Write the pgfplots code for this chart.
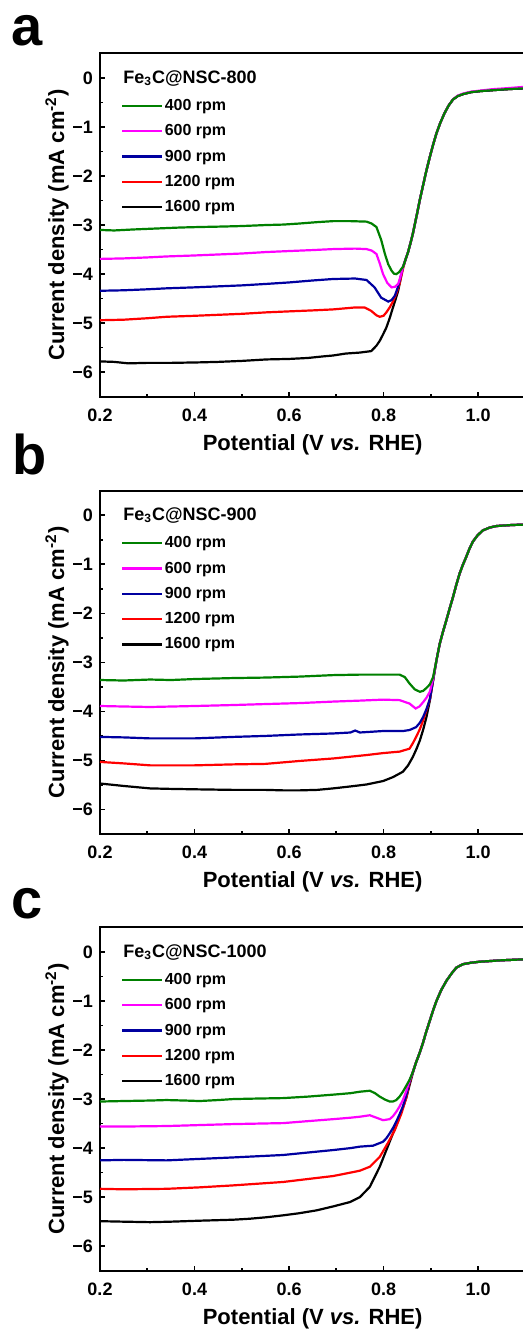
\documentclass[border=0pt]{standalone}
\usepackage{fontspec}
\setmainfont{Liberation Sans}
\usepackage{pgfplots}
\pgfplotsset{compat=1.18}
\definecolor{lgreen}{RGB}{0,128,0}
\definecolor{lmag}{RGB}{255,0,255}
\definecolor{lblue}{RGB}{0,0,160}
\definecolor{lred}{RGB}{255,0,0}
\definecolor{lblack}{RGB}{0,0,0}
\pgfplotsset{lsv/.style={
  width=212.65pt, height=171.65pt, scale only axis,
  xmin=0.2, xmax=1.1, ymin=-6.5, ymax=0.5,
  xtick={0.2,0.4,0.6,0.8,1.0}, xticklabels={0.2,0.4,0.6,0.8,1.0},
  ytick={-6,-5,-4,-3,-2,-1,0}, yticklabels={−6,−5,−4,−3,−2,−1,0},
  minor x tick num=1, minor y tick num=1,
  xtick pos=bottom, ytick pos=left,
  tick align=inside, major tick length=2.6pt, minor tick length=1.5pt,
  every tick/.style={black, line width=0.8pt},
  axis line style={line width=1pt},
  /pgf/number format/assume math mode=true,
  ticklabel style={font=\bfseries\fontsize{9}{10}\selectfont},
  xticklabel style={yshift=-2.5pt},
  xlabel={Potential (V \textit{vs.} RHE)},
  ylabel={Current density (mA cm\textsuperscript{-2})},
  every axis x label/.style={at={(axis description cs:0.5,-0.108)}, anchor=north, inner sep=0pt, font=\bfseries\fontsize{11}{12}\selectfont},
  every axis y label/.style={at={(axis description cs:-0.1011,0.5)}, anchor=center, rotate=90, inner sep=0pt, font=\bfseries\fontsize{11}{12}\selectfont},
  legend image code/.code={\draw[#1] (0pt,0pt) -- (20pt,0pt);},
  legend cell align=left, reverse legend,
  legend style={draw=none, fill=none, at={(axis description cs:0.049,0.874)}, anchor=north west,
    inner sep=0pt, row sep=3.75pt, font=\bfseries\fontsize{8}{9}\selectfont,
    nodes={inner sep=0.7pt, text height=6pt, text depth=1.5pt}},
  every axis plot/.append style={line width=1.1pt},
}}
\begin{document}
\begin{tikzpicture}
\path[use as bounding box] (0,0) rectangle (261.5pt,-664.5pt);
\node[anchor=base west, font=\bfseries\fontsize{28}{28}\selectfont, inner sep=0pt] at (5.5pt,-22.5pt) {a};
\node[anchor=base west, font=\bfseries\fontsize{28}{28}\selectfont, inner sep=0pt] at (5.8pt,-237pt) {b};
\node[anchor=base west, font=\bfseries\fontsize{28}{28}\selectfont, inner sep=0pt] at (5.4pt,-459pt) {c};
% ---------------- panel a ----------------
\begin{axis}[lsv, at={(50pt,-198.35pt)}, anchor=south west]
\addplot[lblack] coordinates {(0.2,-5.78) (0.23,-5.79) (0.26,-5.82) (0.3,-5.81) (0.35,-5.81) (0.41,-5.80) (0.45,-5.79) (0.5,-5.77) (0.552,-5.74) (0.6,-5.73) (0.64,-5.71) (0.67,-5.68) (0.693,-5.66) (0.72,-5.62) (0.75,-5.60) (0.774,-5.57) (0.785,-5.46) (0.792,-5.36) (0.799,-5.23) (0.806,-5.09) (0.813,-4.90) (0.82,-4.68) (0.826,-4.50) (0.831,-4.34) (0.836,-4.10) (0.841,-3.86) (0.846,-3.72) (0.852,-3.55) (0.857,-3.37) (0.862,-3.18) (0.867,-2.95) (0.872,-2.72) (0.877,-2.48) (0.883,-2.22) (0.890,-1.92) (0.898,-1.61) (0.905,-1.36) (0.912,-1.13) (0.920,-0.92) (0.929,-0.72) (0.938,-0.56) (0.947,-0.44) (0.957,-0.37) (0.968,-0.33) (0.985,-0.29) (1.003,-0.27) (1.03,-0.25) (1.06,-0.23) (1.1,-0.21)};
\addlegendentry{1600 rpm}
\addplot[lred] coordinates {(0.2,-4.94) (0.25,-4.93) (0.3,-4.90) (0.341,-4.87) (0.4,-4.85) (0.45,-4.83) (0.5,-4.81) (0.552,-4.78) (0.6,-4.76) (0.65,-4.74) (0.693,-4.72) (0.74,-4.68) (0.76,-4.68) (0.774,-4.75) (0.785,-4.84) (0.792,-4.87) (0.800,-4.85) (0.806,-4.78) (0.813,-4.68) (0.820,-4.56) (0.827,-4.40) (0.834,-4.20) (0.841,-3.90) (0.846,-3.72) (0.852,-3.55) (0.857,-3.37) (0.862,-3.18) (0.867,-2.95) (0.872,-2.72) (0.877,-2.48) (0.883,-2.22) (0.890,-1.92) (0.898,-1.61) (0.905,-1.36) (0.912,-1.13) (0.920,-0.92) (0.929,-0.72) (0.938,-0.56) (0.947,-0.44) (0.957,-0.37) (0.968,-0.33) (0.985,-0.29) (1.003,-0.27) (1.03,-0.25) (1.06,-0.23) (1.1,-0.21)};
\addlegendentry{1200 rpm}
\addplot[lblue] coordinates {(0.2,-4.34) (0.25,-4.33) (0.3,-4.31) (0.341,-4.29) (0.4,-4.27) (0.45,-4.25) (0.5,-4.23) (0.552,-4.20) (0.6,-4.17) (0.65,-4.13) (0.693,-4.10) (0.74,-4.09) (0.764,-4.12) (0.781,-4.27) (0.795,-4.48) (0.81,-4.56) (0.817,-4.53) (0.824,-4.44) (0.831,-4.25) (0.836,-4.06) (0.841,-3.86) (0.846,-3.72) (0.852,-3.55) (0.857,-3.37) (0.862,-3.18) (0.867,-2.95) (0.872,-2.72) (0.877,-2.48) (0.883,-2.22) (0.890,-1.92) (0.898,-1.61) (0.905,-1.36) (0.912,-1.13) (0.920,-0.92) (0.929,-0.72) (0.938,-0.56) (0.947,-0.44) (0.957,-0.37) (0.968,-0.33) (0.985,-0.29) (1.003,-0.27) (1.03,-0.25) (1.06,-0.23) (1.1,-0.21)};
\addlegendentry{900 rpm}
\addplot[lmag] coordinates {(0.2,-3.69) (0.25,-3.68) (0.3,-3.66) (0.341,-3.64) (0.4,-3.62) (0.45,-3.60) (0.5,-3.58) (0.552,-3.55) (0.6,-3.53) (0.65,-3.51) (0.693,-3.49) (0.74,-3.48) (0.764,-3.49) (0.775,-3.52) (0.785,-3.59) (0.792,-3.78) (0.799,-4.00) (0.808,-4.18) (0.817,-4.27) (0.824,-4.26) (0.831,-4.20) (0.836,-4.05) (0.841,-3.86) (0.846,-3.72) (0.852,-3.55) (0.857,-3.37) (0.862,-3.18) (0.867,-2.95) (0.872,-2.72) (0.877,-2.48) (0.883,-2.22) (0.890,-1.92) (0.898,-1.61) (0.905,-1.36) (0.912,-1.13) (0.920,-0.92) (0.929,-0.72) (0.938,-0.56) (0.947,-0.44) (0.957,-0.36) (0.968,-0.32) (0.985,-0.28) (1.003,-0.26) (1.03,-0.23) (1.06,-0.21) (1.1,-0.18)};
\addlegendentry{600 rpm}
\addplot[lgreen] coordinates {(0.2,-3.10) (0.23,-3.11) (0.27,-3.09) (0.32,-3.07) (0.37,-3.05) (0.41,-3.04) (0.46,-3.03) (0.5,-3.02) (0.55,-3.00) (0.588,-2.99) (0.62,-2.97) (0.66,-2.94) (0.693,-2.92) (0.73,-2.92) (0.764,-2.93) (0.775,-2.97) (0.785,-3.04) (0.795,-3.30) (0.803,-3.59) (0.810,-3.80) (0.817,-3.93) (0.822,-3.99) (0.827,-4.00) (0.833,-3.96) (0.838,-3.89) (0.841,-3.86) (0.846,-3.72) (0.852,-3.55) (0.857,-3.37) (0.862,-3.18) (0.867,-2.95) (0.872,-2.72) (0.877,-2.48) (0.883,-2.22) (0.890,-1.92) (0.898,-1.61) (0.905,-1.36) (0.912,-1.13) (0.920,-0.92) (0.929,-0.72) (0.938,-0.56) (0.947,-0.44) (0.957,-0.37) (0.968,-0.33) (0.985,-0.29) (1.003,-0.27) (1.03,-0.25) (1.06,-0.23) (1.1,-0.21)};
\addlegendentry{400 rpm}
\node[anchor=base west, inner sep=0pt, font=\bfseries\fontsize{9}{10}\selectfont] at (axis description cs:0.054,0.913) {Fe\textsubscript{3}C@NSC-800};
\end{axis}
% ---------------- panel b ----------------
\begin{axis}[lsv, at={(50pt,-417pt)}, anchor=south west]
\addplot[lblack] coordinates {(0.2,-5.47) (0.25,-5.52) (0.306,-5.57) (0.35,-5.58) (0.411,-5.59) (0.482,-5.60) (0.55,-5.60) (0.588,-5.61) (0.623,-5.61) (0.66,-5.60) (0.693,-5.57) (0.73,-5.53) (0.764,-5.49) (0.799,-5.42) (0.82,-5.34) (0.841,-5.23) (0.852,-5.10) (0.862,-4.93) (0.870,-4.76) (0.877,-4.59) (0.884,-4.37) (0.891,-4.11) (0.898,-3.78) (0.905,-3.37) (0.912,-2.96) (0.919,-2.62) (0.926,-2.37) (0.933,-2.14) (0.940,-1.90) (0.947,-1.67) (0.954,-1.42) (0.961,-1.19) (0.968,-1.01) (0.975,-0.85) (0.982,-0.68) (0.989,-0.54) (0.999,-0.41) (1.010,-0.31) (1.025,-0.25) (1.039,-0.22) (1.07,-0.20) (1.1,-0.19)};
\addlegendentry{1600 rpm}
\addplot[lred] coordinates {(0.2,-5.03) (0.25,-5.06) (0.306,-5.10) (0.4,-5.10) (0.482,-5.08) (0.55,-5.07) (0.623,-5.01) (0.693,-4.96) (0.764,-4.89) (0.799,-4.85) (0.834,-4.82) (0.855,-4.76) (0.862,-4.65) (0.869,-4.52) (0.877,-4.36) (0.884,-4.18) (0.891,-3.97) (0.898,-3.76) (0.905,-3.35) (0.912,-2.96) (0.919,-2.62) (0.926,-2.37) (0.933,-2.14) (0.940,-1.90) (0.947,-1.67) (0.954,-1.42) (0.961,-1.19) (0.968,-1.01) (0.975,-0.85) (0.982,-0.68) (0.989,-0.54) (0.999,-0.41) (1.010,-0.31) (1.025,-0.25) (1.039,-0.22) (1.07,-0.20) (1.1,-0.19)};
\addlegendentry{1200 rpm}
\addplot[lblue] coordinates {(0.2,-4.52) (0.25,-4.53) (0.306,-4.55) (0.4,-4.55) (0.482,-4.52) (0.55,-4.50) (0.623,-4.47) (0.693,-4.45) (0.73,-4.43) (0.74,-4.39) (0.75,-4.43) (0.799,-4.40) (0.841,-4.40) (0.855,-4.38) (0.869,-4.32) (0.877,-4.23) (0.884,-4.11) (0.891,-3.95) (0.898,-3.75) (0.905,-3.35) (0.912,-2.96) (0.919,-2.62) (0.926,-2.37) (0.933,-2.14) (0.940,-1.90) (0.947,-1.67) (0.954,-1.42) (0.961,-1.19) (0.968,-1.01) (0.975,-0.85) (0.982,-0.68) (0.989,-0.54) (0.999,-0.41) (1.010,-0.31) (1.025,-0.25) (1.039,-0.22) (1.07,-0.20) (1.1,-0.19)};
\addlegendentry{900 rpm}
\addplot[lmag] coordinates {(0.2,-3.89) (0.25,-3.90) (0.306,-3.91) (0.4,-3.89) (0.482,-3.87) (0.55,-3.85) (0.623,-3.83) (0.693,-3.80) (0.75,-3.78) (0.799,-3.76) (0.834,-3.77) (0.855,-3.84) (0.868,-3.94) (0.876,-3.90) (0.884,-3.81) (0.891,-3.72) (0.898,-3.60) (0.905,-3.33) (0.912,-2.96) (0.919,-2.62) (0.926,-2.37) (0.933,-2.14) (0.940,-1.90) (0.947,-1.67) (0.954,-1.42) (0.961,-1.19) (0.968,-1.01) (0.975,-0.85) (0.982,-0.68) (0.989,-0.54) (0.999,-0.41) (1.010,-0.31) (1.025,-0.25) (1.039,-0.22) (1.07,-0.20) (1.1,-0.19)};
\addlegendentry{600 rpm}
\addplot[lgreen] coordinates {(0.2,-3.36) (0.25,-3.37) (0.306,-3.35) (0.35,-3.36) (0.4,-3.34) (0.482,-3.32) (0.55,-3.31) (0.623,-3.29) (0.693,-3.26) (0.75,-3.25) (0.8,-3.25) (0.834,-3.25) (0.845,-3.30) (0.855,-3.43) (0.866,-3.55) (0.877,-3.60) (0.884,-3.58) (0.891,-3.52) (0.898,-3.45) (0.905,-3.30) (0.912,-2.96) (0.919,-2.62) (0.926,-2.37) (0.933,-2.14) (0.940,-1.90) (0.947,-1.67) (0.954,-1.42) (0.961,-1.19) (0.968,-1.01) (0.975,-0.85) (0.982,-0.68) (0.989,-0.54) (0.999,-0.41) (1.010,-0.31) (1.025,-0.25) (1.039,-0.22) (1.07,-0.20) (1.1,-0.19)};
\addlegendentry{400 rpm}
\node[anchor=base west, inner sep=0pt, font=\bfseries\fontsize{9}{10}\selectfont] at (axis description cs:0.054,0.913) {Fe\textsubscript{3}C@NSC-900};
\end{axis}
% ---------------- panel c ----------------
\begin{axis}[lsv, at={(50pt,-635.35pt)}, anchor=south west]
\addplot[lblack] coordinates {(0.2,-5.49) (0.25,-5.50) (0.306,-5.51) (0.35,-5.50) (0.411,-5.48) (0.482,-5.46) (0.517,-5.44) (0.552,-5.41) (0.588,-5.37) (0.62,-5.33) (0.658,-5.27) (0.693,-5.19) (0.729,-5.10) (0.750,-5.00) (0.771,-4.79) (0.792,-4.38) (0.806,-4.04) (0.820,-3.70) (0.834,-3.36) (0.848,-2.98) (0.855,-2.72) (0.862,-2.47) (0.869,-2.25) (0.876,-2.07) (0.883,-1.87) (0.890,-1.64) (0.898,-1.40) (0.905,-1.19) (0.912,-1.00) (0.922,-0.78) (0.933,-0.59) (0.944,-0.44) (0.954,-0.32) (0.968,-0.25) (0.985,-0.22) (1.003,-0.20) (1.05,-0.17) (1.1,-0.15)};
\addlegendentry{1600 rpm}
\addplot[lred] coordinates {(0.2,-4.83) (0.25,-4.84) (0.341,-4.83) (0.411,-4.80) (0.482,-4.76) (0.588,-4.69) (0.64,-4.63) (0.693,-4.57) (0.73,-4.50) (0.750,-4.46) (0.771,-4.38) (0.792,-4.18) (0.809,-3.90) (0.824,-3.63) (0.838,-3.29) (0.848,-2.98) (0.855,-2.68) (0.862,-2.45) (0.869,-2.25) (0.876,-2.07) (0.883,-1.87) (0.890,-1.64) (0.898,-1.40) (0.905,-1.19) (0.912,-1.00) (0.922,-0.78) (0.933,-0.59) (0.944,-0.44) (0.954,-0.32) (0.968,-0.25) (0.985,-0.22) (1.003,-0.20) (1.05,-0.17) (1.1,-0.15)};
\addlegendentry{1200 rpm}
\addplot[lblue] coordinates {(0.2,-4.25) (0.25,-4.24) (0.341,-4.25) (0.411,-4.22) (0.482,-4.19) (0.588,-4.14) (0.64,-4.09) (0.693,-4.04) (0.73,-4.00) (0.750,-3.97) (0.778,-3.95) (0.799,-3.87) (0.806,-3.80) (0.813,-3.70) (0.820,-3.59) (0.827,-3.46) (0.834,-3.31) (0.841,-3.15) (0.848,-2.93) (0.855,-2.65) (0.862,-2.45) (0.869,-2.25) (0.876,-2.07) (0.883,-1.87) (0.890,-1.64) (0.898,-1.40) (0.905,-1.19) (0.912,-1.00) (0.922,-0.78) (0.933,-0.59) (0.944,-0.44) (0.954,-0.32) (0.968,-0.25) (0.985,-0.22) (1.003,-0.20) (1.05,-0.17) (1.1,-0.15)};
\addlegendentry{900 rpm}
\addplot[lmag] coordinates {(0.2,-3.56) (0.25,-3.56) (0.341,-3.55) (0.411,-3.53) (0.482,-3.51) (0.588,-3.49) (0.64,-3.45) (0.693,-3.41) (0.73,-3.38) (0.750,-3.36) (0.771,-3.33) (0.785,-3.38) (0.799,-3.43) (0.813,-3.41) (0.820,-3.35) (0.827,-3.26) (0.834,-3.15) (0.841,-3.02) (0.848,-2.84) (0.855,-2.63) (0.862,-2.45) (0.869,-2.25) (0.876,-2.07) (0.883,-1.87) (0.890,-1.64) (0.898,-1.40) (0.905,-1.19) (0.912,-1.00) (0.922,-0.78) (0.933,-0.59) (0.944,-0.44) (0.954,-0.32) (0.968,-0.25) (0.985,-0.22) (1.003,-0.20) (1.05,-0.17) (1.1,-0.15)};
\addlegendentry{600 rpm}
\addplot[lgreen] coordinates {(0.2,-3.05) (0.25,-3.04) (0.306,-3.03) (0.341,-3.02) (0.38,-3.03) (0.411,-3.04) (0.45,-3.02) (0.482,-3.00) (0.53,-2.99) (0.588,-2.98) (0.64,-2.95) (0.693,-2.91) (0.73,-2.88) (0.750,-2.85) (0.771,-2.83) (0.782,-2.88) (0.792,-2.95) (0.803,-3.01) (0.813,-3.05) (0.820,-3.05) (0.827,-3.02) (0.834,-2.95) (0.841,-2.85) (0.848,-2.73) (0.855,-2.61) (0.862,-2.45) (0.869,-2.25) (0.876,-2.07) (0.883,-1.87) (0.890,-1.64) (0.898,-1.40) (0.905,-1.19) (0.912,-1.00) (0.922,-0.78) (0.933,-0.59) (0.944,-0.44) (0.954,-0.32) (0.968,-0.25) (0.985,-0.22) (1.003,-0.20) (1.05,-0.17) (1.1,-0.15)};
\addlegendentry{400 rpm}
\node[anchor=base west, inner sep=0pt, font=\bfseries\fontsize{9}{10}\selectfont] at (axis description cs:0.054,0.913) {Fe\textsubscript{3}C@NSC-1000};
\end{axis}
\end{tikzpicture}
\end{document}
